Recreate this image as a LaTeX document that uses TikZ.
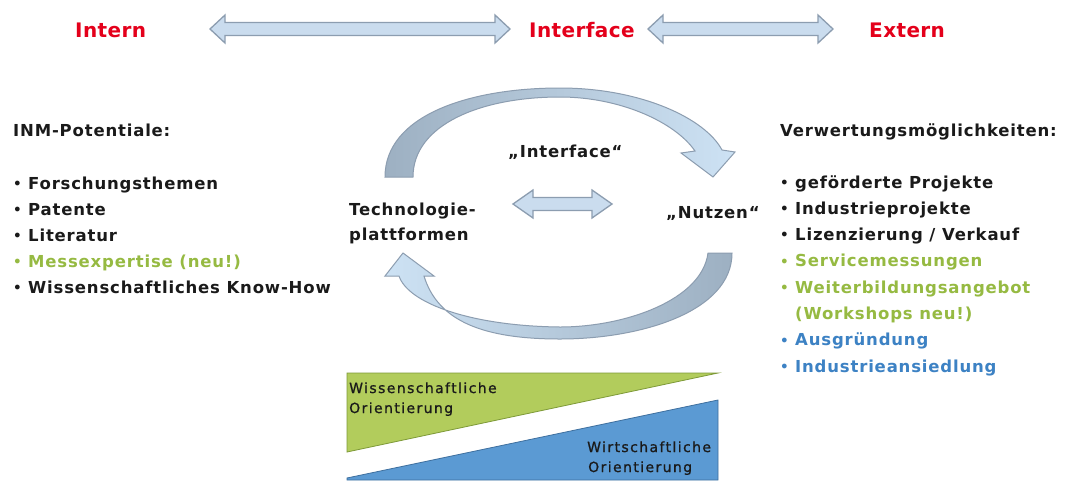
\documentclass[tikz,border=0pt]{standalone}
\usepackage{fontspec}
\setmainfont{DejaVu Sans}
\newfontfamily\txtf[LetterSpace=5]{DejaVu Sans Bold}
\newfontfamily\hdf[LetterSpace=2]{DejaVu Sans Bold}
\newfontfamily\smf[LetterSpace=10,FakeBold=1]{DejaVu Sans}
\definecolor{ired}{HTML}{E4001B}
\definecolor{igreen}{HTML}{96BA42}
\definecolor{iblue}{HTML}{3D82C4}
\definecolor{txt}{HTML}{1A1A1A}
\definecolor{arrfill}{HTML}{CADCEE}
\definecolor{arrline}{HTML}{8C9DB0}
\definecolor{bandgray}{HTML}{9DB0C2}
\definecolor{bandlight}{HTML}{CDE2F4}
\definecolor{trigreen}{HTML}{B2CC5C}
\definecolor{trigreenl}{HTML}{7E9A38}
\definecolor{triblue}{HTML}{5B9AD3}
\definecolor{triblueline}{HTML}{3E6F9E}
\newcommand{\bul}{\makebox[15pt][l]{\raisebox{0.8pt}{\fontsize{13.5}{13.5}\selectfont •}}}
\newcommand{\dblarr}[6]{%
  \draw[flatarrow] (#1,#3) -- (#1+#6,#3-#5) -- (#1+#6,#3-#4) -- (#2-#6,#3-#4)
    -- (#2-#6,#3-#5) -- (#2,#3) -- (#2-#6,#3+#5) -- (#2-#6,#3+#4)
    -- (#1+#6,#3+#4) -- (#1+#6,#3+#5) -- cycle;}
\begin{document}
\begin{tikzpicture}[x=1pt,y=-1pt,
  head/.style={anchor=base west,inner sep=0pt,text=ired,font=\hdf\fontsize{20}{24}\selectfont},
  item/.style={anchor=base west,inner sep=0pt,text=txt,font=\txtf\fontsize{16.5}{20}\selectfont},
  small/.style={anchor=base west,inner sep=0pt,text=txt,font=\smf\fontsize{14}{16}\selectfont},
  flatarrow/.style={fill=arrfill,draw=arrline,line width=1.3pt,line join=miter},
  topband/.style={left color=bandgray,right color=bandlight,draw=arrline,line width=1pt},
  botband/.style={left color=bandlight,right color=bandgray,draw=arrline,line width=1pt}]
\useasboundingbox (0,0) rectangle (1067,480);
\fill[white] (0,0) rectangle (1067,480);

% bottom triangles
\draw[fill=trigreen,draw=trigreenl,line width=0.8pt] (347,373) -- (718,373) -- (347,452) -- cycle;
\draw[fill=triblue,draw=triblueline,line width=0.8pt] (347,478) -- (718,400) -- (718,480) -- (347,480) -- cycle;
\node[small] (wiss1) at (349,393) {Wissenschaftliche};
\node[small] (wiss2) at (349,413) {Orientierung};
\node[small] (wirt1) at (587,452) {Wirtschaftliche};
\node[small] (wirt2) at (588,472) {Orientierung};

% top labels and arrows
\node[head] (intern) at (75,37) {Intern};
\node[head] (interface) at (529,37) {Interface};
\node[head] (extern) at (869,37) {Extern};
\dblarr{210}{510}{29}{6.5}{14}{15}
\dblarr{648}{833}{29}{6.5}{14}{15}

% left list
\node[item] (inm) at (13,136) {INM-Potentiale:};
\node[item] (l1) at (13,189) {\bul Forschungsthemen};
\node[item] (l2) at (13,215) {\bul Patente};
\node[item] (l3) at (13,241) {\bul Literatur};
\node[item,text=igreen] (l4) at (13,267) {\bul Messexpertise (neu!)};
\node[item] (l5) at (13,293) {\bul Wissenschaftliches Know-How};

% right list
\node[item] (verw) at (780,136) {Verwertungsmöglichkeiten:};
\node[item] (r1) at (780,188) {\bul geförderte Projekte};
\node[item] (r2) at (780,214.3) {\bul Industrieprojekte};
\node[item] (r3) at (780,240.6) {\bul Lizenzierung / Verkauf};
\node[item,text=igreen] (r4) at (780,266.9) {\bul Servicemessungen};
\node[item,text=igreen] (r5) at (780,293.2) {\bul Weiterbildungsangebot};
\node[item,text=igreen] (r6) at (795,319.5) {(Workshops neu!)};
\node[item,text=iblue] (r7) at (780,345.8) {\bul Ausgründung};
\node[item,text=iblue] (r8) at (780,372.1) {\bul Industrieansiedlung};

% centre
\draw[topband] (385,177) .. controls (385,115) and (470,88) .. (560,88)
  .. controls (640,88) and (705,118) .. (722,150) -- (735,152) -- (713,177)
  -- (681,153) -- (695,151) .. controls (675,122) and (620,97) .. (560,97)
  .. controls (480,97) and (413,125) .. (413,177) -- cycle;
\draw[botband] (732,253) .. controls (732,312) and (640,339) .. (560,339)
  .. controls (485,339) and (438,322) .. (424,276) -- (434,276) -- (403,253)
  -- (385,276) -- (399,276) .. controls (408,303) and (470,326) .. (560,327)
  .. controls (625,327) and (702,300) .. (708,253) -- cycle;
\node[item] (tech1) at (349,215) {Technologie-};
\node[item] (tech2) at (349,240) {plattformen};
\node[item] (iface) at (508,157) {„Interface“};
\node[item] (nutzen) at (666,218) {„Nutzen“};
\dblarr{513}{612}{204}{6.5}{14}{20}
\end{tikzpicture}
\end{document}
